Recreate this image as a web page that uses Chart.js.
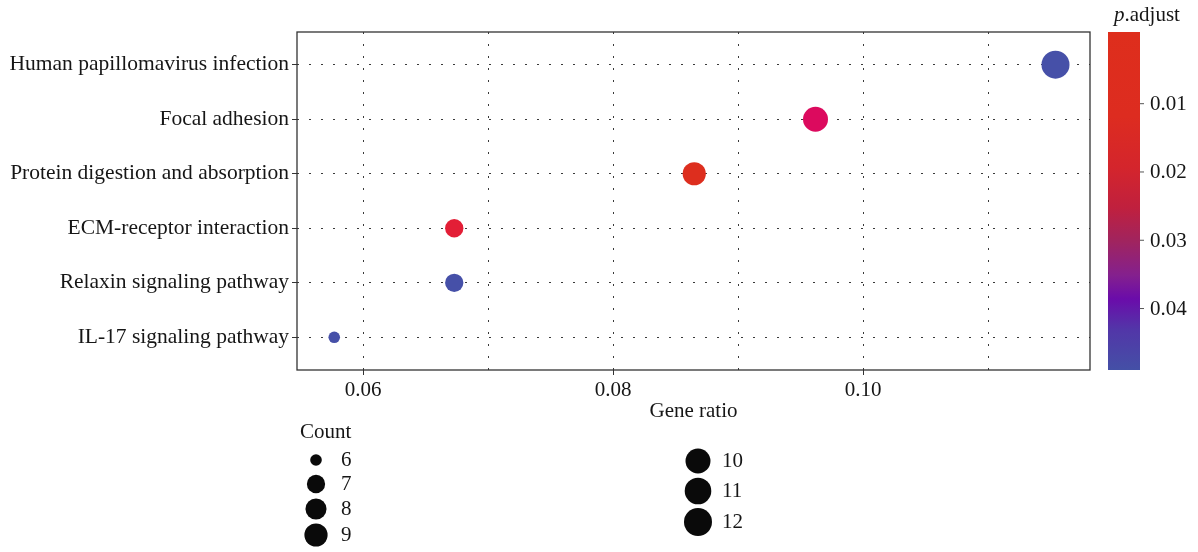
<!DOCTYPE html>
<html>
<head>
<meta charset="utf-8">
<script src="https://cdn.jsdelivr.net/npm/chart.js@4.4.1/dist/chart.umd.min.js"></script>
<style>
  html, body { margin: 0; padding: 0; background: #ffffff; }
  #wrap { width: 1198px; height: 552px; position: relative; }
</style>
</head>
<body>
<div id="wrap"><canvas id="dotplot" width="1198" height="552"></canvas></div>
<script>
// KEGG enrichment: pathways listed bottom-to-top
const pathways = [
  'IL-17 signaling pathway',
  'Relaxin signaling pathway',
  'ECM-receptor interaction',
  'Protein digestion and absorption',
  'Focal adhesion',
  'Human papillomavirus infection'
];
const geneRatio = [0.0577, 0.0673, 0.0673, 0.0865, 0.0962, 0.1154];
const geneCount = [6, 7, 7, 9, 10, 12];
const pAdjust   = [0.0470, 0.0472, 0.0060, 0.0008, 0.0120, 0.0490];

// axis breaks
const xBreaks       = [0.06, 0.07, 0.08, 0.09, 0.10, 0.11];
const xMajorBreaks  = [0.06, 0.08, 0.10];
const pAdjustBreaks = [0.01, 0.02, 0.03, 0.04];
const countBreaks   = [6, 7, 8, 9, 10, 11, 12];

// fill used for each dot (same order as pathways)
const dotColours = ['#4650A8', '#4650A8', '#E31E36', '#DD2E1E', '#DC0A5E', '#4650A8'];

const FONT = "'Liberation Serif', 'Times New Roman', serif";
const TEXT = '#161616';
const GRID = '#3a3a3a';

// area-proportional size scale for the count aesthetic
const R_MIN = 5.8, R_MAX = 14;
const C_MIN = Math.min(...countBreaks), C_MAX = Math.max(...countBreaks);
function radiusFor(n) {
  return R_MIN + (R_MAX - R_MIN) * Math.sqrt((n - C_MIN) / (C_MAX - C_MIN));
}

// colour bar limits
const P_LOW = -0.0005, P_HIGH = 0.0490;
const barStops = [
  [0.00, '#DE2E1C'], [0.25, '#DD2C20'], [0.40, '#D4252C'], [0.52, '#C0203E'],
  [0.62, '#A0245F'], [0.72, '#84208E'], [0.79, '#6A0CAA'], [0.88, '#5236A8'], [1.00, '#4450A6']
];

const panelBox = {
  id: 'panelBox',
  beforeDatasetsDraw(chart) {
    const { ctx, chartArea: a } = chart;
    ctx.save();
    ctx.strokeStyle = '#333333';
    ctx.lineWidth = 1.3;
    ctx.strokeRect(a.left, a.top, a.right - a.left, a.bottom - a.top);
    ctx.restore();
  }
};

const guides = {
  id: 'guides',
  afterDraw(chart) {
    const { ctx, chartArea: a } = chart;
    ctx.save();
    ctx.fillStyle = TEXT;
    ctx.textBaseline = 'middle';
    ctx.font = `21px ${FONT}`;

    // colour bar
    const bx = 1108, bw = 32, by = a.top, bh = a.bottom - a.top;
    const g = ctx.createLinearGradient(0, by, 0, by + bh);
    barStops.forEach(([o, c]) => g.addColorStop(o, c));
    ctx.fillStyle = g;
    ctx.fillRect(bx, by, bw, bh);

    // colour bar title: italic p + ".adjust"
    ctx.fillStyle = TEXT;
    ctx.textAlign = 'left';
    ctx.font = `italic 21px ${FONT}`;
    const pw = ctx.measureText('p').width;
    ctx.fillText('p', 1114, 15);
    ctx.font = `21px ${FONT}`;
    ctx.fillText('.adjust', 1114 + pw, 15);

    // colour bar ticks and labels
    pAdjustBreaks.forEach(v => {
      const y = by + (v - P_LOW) / (P_HIGH - P_LOW) * bh;
      ctx.strokeStyle = '#555555';
      ctx.lineWidth = 1;
      ctx.beginPath();
      ctx.moveTo(bx + bw, y);
      ctx.lineTo(bx + bw + 4, y);
      ctx.stroke();
      ctx.fillText(v.toFixed(2), 1150, y + 1);
    });

    // size legend
    ctx.fillText('Count', 300, 432);
    const rows = [
      { n: 6,  cx: 316, cy: 460, tx: 341 },
      { n: 7,  cx: 316, cy: 484, tx: 341 },
      { n: 8,  cx: 316, cy: 509, tx: 341 },
      { n: 9,  cx: 316, cy: 535, tx: 341 },
      { n: 10, cx: 698, cy: 461, tx: 722 },
      { n: 11, cx: 698, cy: 491, tx: 722 },
      { n: 12, cx: 698, cy: 522, tx: 722 }
    ];
    rows.forEach(r => {
      ctx.fillStyle = '#0a0a0a';
      ctx.beginPath();
      ctx.arc(r.cx, r.cy, radiusFor(r.n), 0, Math.PI * 2);
      ctx.fill();
      ctx.fillStyle = TEXT;
      ctx.fillText(String(r.n), r.tx, r.cy);
    });
    ctx.restore();
  }
};

new Chart(document.getElementById('dotplot'), {
  type: 'bubble',
  data: {
    datasets: [{
      data: pathways.map((p, i) => ({ x: geneRatio[i], y: i, r: radiusFor(geneCount[i]), p: pAdjust[i] })),
      backgroundColor: dotColours,
      borderWidth: 0,
      hoverBorderWidth: 0
    }]
  },
  options: {
    responsive: false,
    animation: false,
    devicePixelRatio: 1,
    layout: { padding: { top: 32, right: 108, bottom: 128, left: 0 } },
    plugins: { legend: { display: false }, tooltip: { enabled: false } },
    scales: {
      x: {
        type: 'linear',
        min: 0.05472,
        max: 0.11816,
        afterBuildTicks: s => { s.ticks = xBreaks.map(v => ({ value: v })); },
        afterFit: s => { s.height = 54; },
        ticks: {
          autoSkip: false,
          maxRotation: 0,
          padding: 3,
          color: TEXT,
          font: { family: FONT, size: 21 },
          callback: (v) => xMajorBreaks.some(m => Math.abs(m - v) < 1e-9) ? v.toFixed(2) : ''
        },
        grid: {
          color: GRID,
          lineWidth: 1,
          tickLength: 5,
          tickColor: c => (c.tick && xMajorBreaks.some(m => Math.abs(m - c.tick.value) < 1e-9)) ? '#333333' : 'rgba(0,0,0,0)'
        },
        border: { display: false, dash: [2, 10] },
        title: {
          display: true,
          text: 'Gene ratio',
          color: TEXT,
          font: { family: FONT, size: 21 },
          padding: { top: 0, bottom: 0 }
        }
      },
      y: {
        type: 'linear',
        min: -0.6,
        max: 5.6,
        afterBuildTicks: s => { s.ticks = pathways.map((_, i) => ({ value: i })); },
        afterFit: s => { s.width = 297; },
        ticks: {
          autoSkip: false,
          padding: 3,
          color: TEXT,
          font: { family: FONT, size: 21.5 },
          callback: v => pathways[v]
        },
        grid: { color: GRID, lineWidth: 1, tickLength: 5, tickColor: '#333333' },
        border: { display: false, dash: [2, 10] }
      }
    }
  },
  plugins: [panelBox, guides]
});
</script>
</body>
</html>
